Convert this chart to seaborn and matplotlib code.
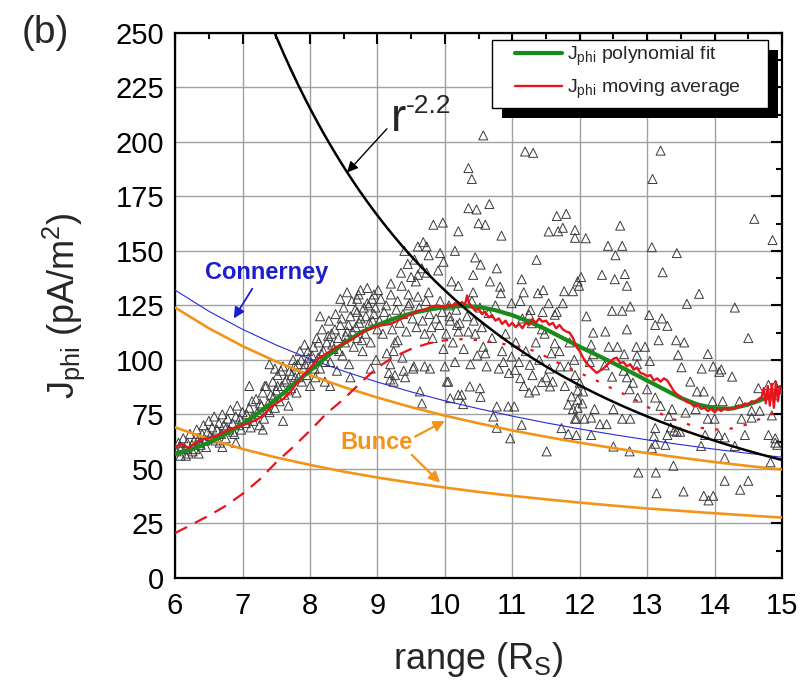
import numpy as np
import pandas as pd
import seaborn as sns
import matplotlib.pyplot as plt
from matplotlib.lines import Line2D
from matplotlib.patches import Rectangle
from matplotlib.ticker import MultipleLocator

# ---------------------------------------------------------------- data
# individual J_phi measurements (range in R_S, current density in pA/m^2)
scatter_r = [
    6.02, 6.05, 6.08, 6.10, 6.12, 6.15, 6.18, 6.20, 6.22, 6.25, 6.28, 6.30, 6.32, 6.35, 6.38, 6.40,
    6.42, 6.45, 6.48, 6.50, 6.52, 6.55, 6.58, 6.60, 6.62, 6.65, 6.68, 6.70, 6.72, 6.75, 6.78, 6.80,
    6.82, 6.85, 6.88, 6.90, 6.92, 6.95, 6.98, 7.00, 6.35, 6.70, 6.90,
    7.05, 7.10, 7.12, 7.15, 7.20, 7.22, 7.25, 7.28, 7.30, 7.32, 7.35, 7.38, 7.40, 7.42, 7.45, 7.48,
    7.50, 7.52, 7.55, 7.58, 7.60, 7.62, 7.65, 7.68, 7.70, 7.72, 7.75, 7.78, 7.80, 7.82, 7.85, 7.88,
    7.90, 7.92, 7.95, 7.98, 8.00, 7.33, 7.48, 7.14, 7.40, 7.10, 7.60, 7.30,
    8.02, 8.05, 8.08, 8.10, 8.12, 8.15, 8.18, 8.20, 8.22, 8.25, 8.28, 8.30, 8.32, 8.35, 8.38, 8.40,
    8.42, 8.45, 8.48, 8.50, 8.52, 8.55, 8.58, 8.60, 8.62, 8.65, 8.68, 8.70, 8.72, 8.75, 8.78, 8.80,
    8.82, 8.85, 8.88, 8.90, 8.92, 8.95, 8.98, 9.00, 8.30, 8.60, 8.90, 8.45, 8.70, 8.15, 8.55,
    8.70, 8.75, 8.85, 8.95,
    9.83, 9.97, 10.20, 9.68, 9.73, 9.76, 9.93, 10.15, 9.98, 9.66, 9.60, 9.73, 9.90, 9.57, 10.10,
    10.20, 9.36, 9.46, 9.01, 9.20, 9.60, 9.76, 9.93, 9.46, 10.06, 10.42, 10.40,
    9.26, 9.30, 9.24, 9.19, 9.17, 9.24, 9.39, 9.41, 9.53, 9.78, 10.00, 10.15, 9.98, 10.03, 9.63,
    9.66, 10.08, 10.25, 10.27, 10.37, 10.52, 10.53, 9.70, 9.80, 10.08, 10.18, 10.35, 10.57, 10.60,
    10.87, 10.80, 10.99, 11.04, 10.77, 10.94, 11.03, 10.72, 10.77, 10.97, 11.14, 11.51, 11.12,
    11.17, 11.26, 11.30, 11.34, 11.44, 11.50, 11.56, 11.63, 11.58, 11.71, 11.83, 11.88, 11.83,
    11.97, 11.97, 11.95, 11.73, 11.83, 11.29, 11.44, 11.63, 11.25,
    11.19, 11.31, 10.57, 10.35, 10.40, 10.35, 10.47, 10.66, 10.50, 10.60, 10.84, 10.45, 10.53,
    10.42, 10.77, 10.67, 10.82, 10.83, 10.99, 11.14, 11.17, 11.12, 11.36, 11.38, 11.46, 11.54,
    11.66, 11.80, 11.54, 11.68, 11.75, 11.93, 11.93, 11.77, 11.90, 11.97, 11.75, 11.66, 11.27,
    13.20, 13.08, 12.60, 12.09, 12.42, 12.63, 12.53, 13.07, 13.44, 14.59, 14.86, 12.33, 12.02,
    11.99, 12.52, 12.67, 12.70, 13.23, 13.77, 13.59, 14.30, 12.48, 12.63, 12.75, 12.10, 13.03,
    13.22,
    13.12, 13.30, 12.20, 12.38, 12.70, 13.17, 13.43, 13.55, 14.50, 12.17, 12.43, 12.56, 12.84,
    12.97, 12.20, 12.66, 12.85, 13.46, 13.90, 13.04, 12.85, 13.51, 13.81, 13.98, 14.10, 14.07,
    14.26, 14.65, 14.80, 14.90, 14.85, 13.64, 13.74, 13.84, 13.97, 14.12, 14.37, 14.55, 14.67,
    14.40, 14.55, 14.85, 12.15, 12.37, 12.48, 12.65, 12.70, 12.79, 12.74, 12.86, 13.00, 13.12,
    13.20, 13.37, 13.32, 13.57, 13.72, 13.90, 14.00, 11.93, 12.00, 12.05, 11.97, 12.04, 11.90,
    11.93, 12.07, 12.22, 12.17, 12.40, 12.30, 12.63, 12.75, 12.50, 13.12, 13.10, 13.12, 13.30,
    13.44, 13.40, 13.35, 13.49, 13.86, 14.06, 14.15, 14.30, 14.45, 14.80, 14.90, 14.83, 13.80,
    14.15, 12.50, 12.74, 13.07, 13.27, 11.95, 12.17, 13.39, 12.87, 13.13, 14.15, 14.50, 14.38,
    13.14, 13.54, 13.84, 13.91, 13.98,
    9.54, 9.70, 10.05, 10.20, 9.26, 9.19, 9.14, 9.37, 14.90, 14.93,
    9.05, 9.10, 9.20, 9.30, 9.35, 9.45, 9.50, 9.55, 9.40, 9.60,
    10.52, 10.65, 10.45, 10.20, 11.15, 11.45,
    7.52, 7.57, 7.63, 7.67, 7.73, 7.77, 7.83, 7.87, 7.93, 7.97, 8.03, 8.07, 8.13, 8.17, 8.23,
    8.27, 8.33, 8.37, 8.43, 8.47, 8.53, 8.57, 8.63, 8.67, 8.73, 8.77, 8.83, 8.87, 8.93, 8.97,
    9.03, 9.08, 9.13, 9.18, 9.22, 9.28, 9.33, 9.38, 9.43, 9.48, 9.52, 9.58, 9.62, 9.67, 9.72,
    9.77, 9.82, 9.87, 9.92, 9.96, 10.02, 10.07, 10.12, 10.17, 10.22, 10.28, 10.33, 10.38,
    10.43, 10.48,
    10.55, 10.62, 10.70, 10.75, 10.85, 10.90, 10.95, 11.05, 11.10, 11.20, 11.25, 11.35, 11.40,
    11.48, 11.55, 11.60, 11.70, 11.78, 11.85, 11.92,
    6.06, 6.16, 6.26, 6.36, 6.46, 6.56, 6.66, 6.76, 6.86, 6.96, 7.06, 7.16, 7.26, 7.36, 7.46,
]
scatter_j = [
    58, 62, 56, 60, 64, 59, 62, 57, 66, 61, 63, 59, 68, 64, 61, 66,
    70, 63, 67, 72, 65, 69, 74, 63, 68, 71, 66, 75, 70, 64, 73, 68,
    77, 71, 66, 74, 79, 70, 68, 76, 57, 60, 62,
    71, 78, 69, 74, 82, 76, 70, 79, 85, 73, 88, 80, 76, 84, 90, 78,
    86, 93, 81, 88, 97, 84, 91, 79, 95, 87, 100, 92, 85, 98, 104, 90,
    96, 107, 93, 101, 88, 88, 96, 81, 98, 88, 72, 68,
    98, 106, 92, 110, 101, 96, 114, 104, 90, 108, 118, 99, 112, 105, 121, 95,
    110, 116, 102, 124, 108, 113, 98, 120, 127, 106, 115, 110, 130, 119, 104, 124,
    112, 133, 117, 108, 128, 121, 100, 114, 88, 92, 96, 128, 122, 120, 131,
    128, 132, 126, 130,
    162, 163, 159, 154, 152, 148, 149, 150, 145, 142, 139, 140, 141, 136, 136,
    134, 134, 130, 132, 130, 129, 131, 127, 125, 125, 131, 127,
    108, 109, 104, 98, 94, 90, 95, 92, 96, 96, 97, 99, 105, 90, 85.5,
    80, 82.4, 84, 79.7, 87.8, 87, 83, 112, 115, 118, 116, 113, 106, 103,
    99, 96, 101.5, 95.4, 78.6, 78.6, 78.6, 74, 68.8, 64, 70.2, 58, 91.6,
    88, 97.7, 93, 86, 89.8, 92, 87.8, 107.6, 103, 97, 97, 83.2, 79.5,
    78, 86, 73, 68.7, 66, 116.8, 114, 120.7, 120.7,
    195.6, 195, 203, 188, 183, 169.6, 169, 171.5, 162.7, 162, 157, 147, 143.7,
    139, 142, 136, 133.6, 130.6, 126, 137, 131, 127, 145.9, 130.6, 132, 126,
    166, 167, 158.9, 159, 160.6, 159.6, 156, 131.5, 131.5, 136, 126, 122, 122.9,
    196, 183, 161.6, 155.8, 152.3, 152.3, 148, 151.7, 149, 164.7, 155, 139, 138,
    134, 137, 139.4, 134, 140.2, 130.3, 125.7, 124, 122.5, 122.5, 124.5, 120, 120.6,
    119,
    116, 115.6, 112.5, 113, 114, 109, 109, 108, 110, 107, 106, 106, 106,
    106, 102.6, 102.6, 102, 102.3, 102.7, 99.5, 98, 96.6, 96, 97, 95.6, 94.5,
    92.3, 87, 88.5, 88.5, 83.7, 90, 85.5, 85.5, 81, 81, 81, 76.6, 76.6,
    73, 73.5, 74.5, 99, 97.5, 92.3, 95, 92, 89.5, 86.5, 82.7, 86.5, 82.7,
    78.9, 77.4, 74.3, 75.8, 77.4, 73, 73, 93, 89.5, 85.5, 81.7, 80, 77.4,
    73, 73, 77.4, 73.5, 70.5, 70.5, 73, 73, 77.4, 68.7, 65, 61.5, 65.5,
    67, 67.5, 69, 67, 65.5, 65.5, 64.4, 60.5, 65.5, 65.5, 62, 53, 60.5,
    55, 60.2, 58, 59.6, 61, 65.5, 65.5, 51.4, 48.3, 48.3, 44.5, 44.5, 40.4,
    38.8, 39.6, 37.6, 35.5, 37.6,
    97, 97, 90, 84, 93, 91, 103, 101, 64, 61,
    128, 122, 135, 127, 140, 144, 138, 146, 150, 152,
    124, 121.5, 112, 113, 119, 122,
    88, 95, 90, 86, 93, 97, 92, 100, 98, 104, 102, 96, 108, 103, 99,
    111, 107, 114, 104, 119, 111, 116, 113, 123, 117, 109, 120, 125, 118, 124,
    118, 112, 125, 119, 114, 123, 117, 121, 113, 126, 119, 115, 124, 118, 127,
    121, 110, 119, 116, 122, 112, 120, 108, 123, 117, 105, 120, 98,
    118, 102,
    115, 97, 110, 125, 104, 112, 94, 108, 99, 104, 85, 108, 100,
    112, 96, 90, 104, 88, 108, 100,
    60, 56, 58, 62, 60, 64, 62, 69, 67, 73, 75, 72, 80, 77, 83,
]

# polynomial fit of J_phi
fit_r = [6.0, 6.25, 6.5, 6.75, 7.0, 7.25, 7.5, 7.75, 8.0, 8.25, 8.5, 8.75, 9.0, 9.25, 9.5,
         9.75, 10.0, 10.25, 10.5, 10.75, 11.0, 11.25, 11.5, 11.75, 12.0, 12.25, 12.5, 12.75,
         13.0, 13.25, 13.5, 13.75, 14.0, 14.25, 14.5, 14.75, 15.0]
fit_j = [57, 59, 62, 66, 70.5, 76, 82, 88.5, 95, 101.5, 107.5, 112.5, 116, 119, 121.3,
         123, 124.2, 124.7, 124.3, 122.8, 120.5, 117.5, 114, 110, 106, 102.3, 98.5, 94.5,
         90.5, 86.5, 82.5, 79.5, 77.8, 77.6, 79.5, 82.3, 85.5]

# moving average of J_phi
mavg_r = [6.0, 6.1, 6.2, 6.3, 6.4, 6.5, 6.6, 6.7, 6.8, 6.9, 7.0, 7.1, 7.2, 7.3, 7.4, 7.5,
          7.6, 7.7, 7.8, 7.9, 8.0, 8.1, 8.2, 8.3, 8.4, 8.5, 8.6, 8.7, 8.8, 8.9, 9.0, 9.1,
          9.2, 9.3, 9.4, 9.5, 9.6, 9.7, 9.8, 9.9,
          10.0, 10.05, 10.1, 10.15, 10.2, 10.25, 10.3, 10.33, 10.36, 10.4, 10.45, 10.5, 10.55,
          10.6, 10.65, 10.7, 10.75, 10.8, 10.85, 10.9, 10.95, 11.0, 11.05, 11.1, 11.15, 11.2,
          11.25, 11.3, 11.35, 11.4, 11.45, 11.5, 11.55, 11.6, 11.65, 11.7, 11.75, 11.8, 11.85,
          11.9, 11.95, 12.0, 12.05, 12.1, 12.15, 12.2, 12.25, 12.3, 12.35, 12.4, 12.45, 12.5,
          12.55, 12.6, 12.65, 12.7, 12.75, 12.8, 12.85, 12.9, 12.95, 13.0, 13.05, 13.1, 13.15,
          13.2, 13.25, 13.3, 13.35, 13.4, 13.45, 13.5, 13.55, 13.6, 13.65, 13.7, 13.75, 13.8,
          13.85, 13.9, 13.95, 14.0, 14.05, 14.1, 14.15, 14.2, 14.25, 14.3, 14.35, 14.4, 14.45,
          14.5, 14.55, 14.6, 14.65, 14.7, 14.73, 14.76, 14.79, 14.82, 14.85, 14.88, 14.91,
          14.94, 14.97, 15.0]
mavg_j = [60, 61.5, 59.5, 62, 63.5, 64, 65, 66.5, 68, 69, 70, 71, 72.5, 74, 78, 80,
          82, 85, 89, 93, 96, 100, 102, 104, 106, 107.5, 109, 111, 113, 114.5, 115.5, 116,
          116.5, 118, 119.5, 121, 122.5, 123, 124.5, 125,
          124, 125.5, 124.5, 126, 125, 126.5, 125.5, 129.5, 126, 124.5, 122.5, 123.5, 121,
          122, 119.5, 120.5, 118, 119, 116.5, 118, 115.5, 117, 115, 116.5, 114.5, 117,
          116, 118.5, 117, 119, 117.5, 118, 116, 117, 114.5, 116, 114, 113, 112.5,
          110, 106, 104, 101, 98.5, 97, 95.5, 94, 95, 96, 97.5, 99, 100.5,
          101, 98.5, 99, 97, 98, 95.5, 96.5, 94, 93.5, 92.5, 93, 90.5, 91.5,
          90, 91.5, 90.5, 88, 85.5, 84, 83, 81.5, 80.5, 80, 78.5, 79.5, 77.5,
          78, 76.5, 77.5, 76, 77.5, 76.5, 78, 77, 78, 77.5, 79, 78.5, 80,
          79.5, 81, 80.5, 82, 83, 87, 80, 88, 79, 89, 78, 90,
          81, 88, 84]

# second profile (red, dashed then dotted)
prof_dash_r = [6.0, 6.25, 6.5, 6.75, 7.0, 7.25, 7.5, 7.75, 8.0, 8.25, 8.5, 8.75, 9.0,
               9.25, 9.5, 9.75, 10.0]
prof_dash_j = [20.5, 24.5, 28.5, 33, 38.5, 45, 53, 60, 67.5, 75.5, 82, 89.5, 96.5,
               101.5, 105, 107.5, 109]
prof_dot_r = [10.0, 10.25, 10.5, 10.75, 11.0, 11.25, 11.5, 11.75, 12.0, 12.25, 12.5,
              12.75, 13.0, 13.25, 13.5, 13.75, 14.0, 14.25, 14.5, 14.75, 15.0]
prof_dot_j = [109, 109.5, 109, 108, 106.5, 105, 101.5, 97.5, 94, 90.5, 86.5,
              83, 78.5, 74.5, 71.5, 69, 68, 68.5, 70.5, 74, 77]

# model profiles
model_r = [6.0, 6.5, 7.0, 7.5, 8.0, 8.5, 9.0, 9.5, 10.0, 10.5, 11.0, 11.5, 12.0, 12.5,
           13.0, 13.5, 14.0, 14.5, 15.0]
connerney_j = [132, 122.3, 114.0, 106.8, 100.4, 94.8, 89.8, 85.3, 81.2, 77.6, 74.2, 71.1,
               68.3, 65.7, 63.3, 61.1, 59.0, 57.1, 55.3]
bunce_hi_j = [124, 114.5, 106.3, 99.2, 93, 87.5, 82.7, 78.3, 74.4, 70.9, 67.6, 64.7, 62,
              59.5, 57.2, 55.1, 53.1, 51.3, 49.6]
bunce_lo_j = [69, 63.7, 59.1, 55.2, 51.8, 48.7, 46, 43.6, 41.4, 39.4, 37.6, 36, 34.5,
              33.1, 31.8, 30.7, 29.6, 28.6, 27.6]

# power law r^-2.2
POWER_EXP = -2.2
POWER_AMP = 20900.0
power_r = np.linspace(7.3, 15.0, 300)
power_j = POWER_AMP * power_r ** POWER_EXP

x_ticks = [6, 7, 8, 9, 10, 11, 12, 13, 14, 15]
y_ticks = [0, 25, 50, 75, 100, 125, 150, 175, 200, 225, 250]

# ---------------------------------------------------------------- style
sns.set_theme(style="white")
plt.rcParams['font.family'] = ['Liberation Sans', 'DejaVu Sans']
plt.rcParams['mathtext.fontset'] = 'custom'
plt.rcParams['mathtext.rm'] = 'Liberation Sans'
plt.rcParams['mathtext.it'] = 'Liberation Sans:italic'
plt.rcParams['mathtext.bf'] = 'Liberation Sans:bold'

C_GREEN = '#1a8a1a'
C_RED = '#e8141c'
C_ORANGE = '#f39419'
C_BLUE = '#2a2ad6'
C_TEXT_BLUE = '#1c1cd0'

fig = plt.figure(figsize=(8.07, 6.87), dpi=100)
ax = fig.add_axes([0.217, 0.159, 0.752, 0.793])

# measurements
sns.scatterplot(x=scatter_r, y=scatter_j, ax=ax, marker='^', s=42,
                facecolor='none', edgecolor='#3a3a3a', linewidth=0.7, zorder=3)

# model curves
sns.lineplot(x=model_r, y=bunce_hi_j, ax=ax, color=C_ORANGE, lw=1.9, estimator=None, zorder=4)
sns.lineplot(x=model_r, y=bunce_lo_j, ax=ax, color=C_ORANGE, lw=1.9, estimator=None, zorder=4)
sns.lineplot(x=model_r, y=connerney_j, ax=ax, color=C_BLUE, lw=0.8, estimator=None, zorder=4)
sns.lineplot(x=power_r, y=power_j, ax=ax, color='black', lw=1.8, estimator=None, zorder=6)

# second profile
sns.lineplot(x=prof_dash_r, y=prof_dash_j, ax=ax, color=C_RED, lw=1.6, estimator=None,
             linestyle=(0, (6, 4)), zorder=4)
sns.lineplot(x=prof_dot_r, y=prof_dot_j, ax=ax, color=C_RED, lw=1.6, estimator=None,
             linestyle=(0, (1.5, 5)), zorder=4)

# fit and moving average
sns.lineplot(x=fit_r, y=fit_j, ax=ax, color=C_GREEN, lw=3.0, estimator=None, zorder=5)
sns.lineplot(x=mavg_r, y=mavg_j, ax=ax, color=C_RED, lw=1.7, estimator=None, zorder=5.5)

# ---------------------------------------------------------------- axes
ax.set_xlim(6, 15)
ax.set_ylim(0, 250)
ax.set_xticks(x_ticks)
ax.set_yticks(y_ticks)
ax.xaxis.set_minor_locator(MultipleLocator(0.5))
ax.yaxis.set_minor_locator(MultipleLocator(12.5))
ax.grid(True, which='major', color='#a0a0a0', lw=1.0, zorder=0)
ax.set_axisbelow(True)
ax.tick_params(which='both', direction='in', top=True, right=True, colors='black',
               width=1.5)
ax.tick_params(which='major', length=8, labelsize=21)
ax.tick_params(axis='x', which='major', pad=10)
ax.tick_params(axis='y', which='major', pad=8)
ax.tick_params(which='minor', length=4)
for sp in ax.spines.values():
    sp.set_color('black')
    sp.set_linewidth(1.6)

ax.set_xlabel(r"range (R$_{\mathrm{S}}$)", fontsize=26)
ax.xaxis.set_label_coords(0.5, -0.115)
ax.xaxis.label.set_va('top')
ax.set_ylabel(r"J$_{\mathrm{phi}}$ (pA/m$^{2}$)", fontsize=26)
ax.yaxis.set_label_coords(-0.145, 0.5)

fig.text(45 / 807, 1 - 33 / 687, "(b)", fontsize=28, ha='center', va='center')

# ---------------------------------------------------------------- annotations
ax.text(9.2, 205, "r", fontsize=33, ha='left', va='baseline', zorder=7)
ax.text(9.42, 213.5, "-2.2", fontsize=19, ha='left', va='baseline', zorder=7)
ax.annotate("", xy=(8.55, 186), xytext=(9.14, 206), zorder=7,
            arrowprops=dict(arrowstyle='-|>', color='black', lw=1.0,
                            shrinkA=0, shrinkB=0, mutation_scale=16))
ax.annotate("Connerney", xy=(6.87, 119), xytext=(7.35, 137), fontsize=17,
            fontweight='bold', color=C_TEXT_BLUE, ha='center', va='baseline', zorder=7,
            arrowprops=dict(arrowstyle='-|>', color=C_TEXT_BLUE, lw=1.3, relpos=(0.41, 0.0),
                            shrinkA=1, shrinkB=0, mutation_scale=16))
ax.text(8.98, 62, "Bunce", fontsize=17, fontweight='bold', color=C_ORANGE,
        ha='center', va='center', zorder=7)
for tail, tip in [((9.56, 64.8), (10.0, 72.0)), ((9.51, 56.4), (9.93, 43.6))]:
    ax.annotate("", xy=tip, xytext=tail, zorder=7,
                arrowprops=dict(arrowstyle='-|>', color=C_ORANGE, lw=1.6,
                                shrinkA=0, shrinkB=0, mutation_scale=16))

# ---------------------------------------------------------------- legend
# frame and drop shadow (axes fraction coordinates)
frame_x0, frame_x1 = 0.522, 0.977
frame_y0, frame_y1 = 0.862, 0.987
shadow_dx, shadow_dy = 0.0165, -0.0183
ax.add_patch(Rectangle((frame_x0 + shadow_dx, frame_y0 + shadow_dy),
                       frame_x1 - frame_x0, frame_y1 - frame_y0, transform=ax.transAxes,
                       facecolor='black', edgecolor='none', zorder=8, clip_on=False))
ax.add_patch(Rectangle((frame_x0, frame_y0), frame_x1 - frame_x0, frame_y1 - frame_y0,
                       transform=ax.transAxes, facecolor='white', edgecolor='black',
                       lw=1.0, zorder=9, clip_on=False))

handles = [Line2D([], [], color=C_GREEN, lw=3.0), Line2D([], [], color=C_RED, lw=1.7)]
labels = [r"J$_{\mathrm{phi}}$ polynomial fit", r"J$_{\mathrm{phi}}$ moving average"]
leg = ax.legend(handles, labels, loc='center left', bbox_to_anchor=(0.560, 0.9265),
                fontsize=14, frameon=False, borderpad=0.0, borderaxespad=0.0,
                handlelength=2.4, handletextpad=0.3, labelspacing=0.5)
leg.set_zorder(10)

fig.savefig("out.png", dpi=100)
